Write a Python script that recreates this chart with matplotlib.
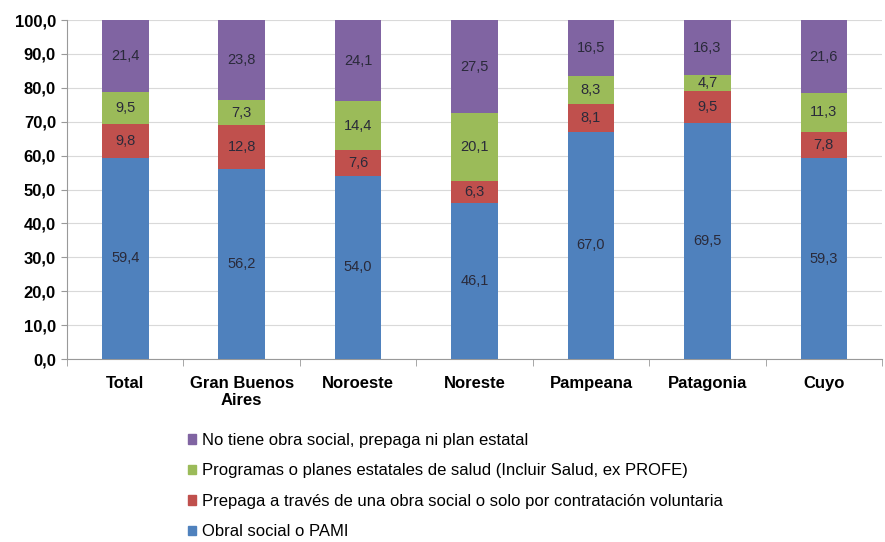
import numpy as np
import matplotlib.pyplot as plt
from matplotlib.patches import Patch

plt.rcParams['font.family'] = ['Liberation Sans', 'DejaVu Sans']

# Data
regions = ["Total", "Gran Buenos\nAires", "Noroeste", "Noreste", "Pampeana", "Patagonia", "Cuyo"]
obra_social = [59.4, 56.2, 54.0, 46.1, 67.0, 69.5, 59.3]
prepaga = [9.8, 12.8, 7.6, 6.3, 8.1, 9.5, 7.8]
programas = [9.5, 7.3, 14.4, 20.1, 8.3, 4.7, 11.3]
no_tiene = [21.4, 23.8, 24.1, 27.5, 16.5, 16.3, 21.6]

series = [
    ("Obral social o PAMI", obra_social, "#4F81BD"),
    ("Prepaga a través de una obra social o solo por contratación voluntaria", prepaga, "#C0504D"),
    ("Programas o planes estatales de salud (Incluir Salud, ex PROFE)", programas, "#9BBB59"),
    ("No tiene obra social, prepaga ni plan estatal", no_tiene, "#8064A2"),
]

fig = plt.figure(figsize=(8.85, 5.42), dpi=100)
ax = fig.add_axes([0.0757, 0.3376, 0.921, 0.6254])

x = np.arange(len(regions))
bottom = np.zeros(len(regions))
for name, vals, color in series:
    vals = np.array(vals)
    bars = ax.bar(x, vals, 0.4, bottom=bottom, color=color, label=name, zorder=3)
    labels = [f"{v:.1f}".replace(".", ",") for v in vals]
    ax.bar_label(bars, labels=labels, label_type="center", fontsize=10.5, color="#2a2a3a")
    bottom += vals

ax.set_xlim(-0.5, len(regions) - 0.5)
ax.set_ylim(0, 100)
ax.set_yticks(np.arange(0, 101, 10))
ax.set_yticklabels([f"{v:.1f}".replace(".", ",") for v in np.arange(0, 101, 10)],
                   fontsize=12, fontweight="bold")
ax.set_xticks(x)
ax.set_xticklabels(regions, fontsize=12, fontweight="bold")
ax.set_xticks(np.arange(-0.5, len(regions), 1), minor=True)
ax.tick_params(axis="x", which="major", length=0, pad=12)
ax.tick_params(axis="x", which="minor", length=5, color="#999999")
ax.tick_params(axis="y", length=4, color="#999999", pad=4)

ax.grid(axis="y", color="#d9d9d9", linewidth=0.8, zorder=0)
for side in ["top", "right"]:
    ax.spines[side].set_visible(False)
ax.spines["left"].set_color("#999999")
ax.spines["bottom"].set_color("#999999")

handles = [Patch(color=c, label=n) for n, v, c in series][::-1]
fig.legend(handles=handles, loc="upper left", bbox_to_anchor=(0.205, 0.214),
           frameon=False, fontsize=12, handlelength=0.5, handleheight=0.5,
           handletextpad=0.35, labelspacing=0.93, borderaxespad=0)

fig.savefig("out.png", dpi=100)
